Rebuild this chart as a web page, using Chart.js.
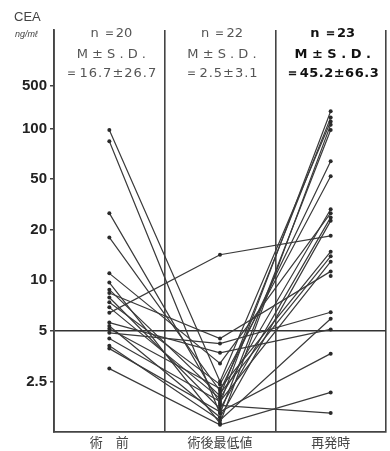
<!DOCTYPE html>
<html>
<head>
<meta charset="utf-8">
<script src="https://cdn.jsdelivr.net/npm/chart.js@4/dist/chart.umd.min.js"></script>
<style>
  html, body { margin: 0; padding: 0; background: #fff; }
  #wrap { width: 390px; height: 451px; }
</style>
</head>
<body>
<div id="wrap"><canvas id="c" width="390" height="451"></canvas></div>
<script>
// ---- data ----
const categories = ['術　前', '術後最低値', '再発時'];
const tickValues = [2.5, 5, 10, 20, 50, 100, 500];
const tickLabels = ['2.5', '5', '10', '20', '50', '100', '500'];
const preOp      = [98, 84, 27, 18, 11, 9.7, 8.8, 8.4, 7.9, 7.4, 6.9, 6.4, 5.6, 5.35, 5.15, 4.87, 4.5, 4.08, 3.92, 2.98, null, null, null];
const postMin    = [2.5, 1.61, 1.85, 2.2, 3.2, 1.41, 2.05, 4.5, 1.72, 2.4, 1.98, 14.2, 3.7, 1.53, 2.27, 4.2, 1.9, 1.47, 1.65, 1.38, 2.12, 1.8, null];
const recurrence = [130, 98, 191, 64, 27, 116, 151, 11.3, 25, 52, 29, 18.4, 5.1, 23.5, 14.8, 6.45, 12.9, 5.9, 3.66, 2.15, 13.9, 1.62, 10.6];
const groupN     = ['n ＝20', 'n ＝22', 'n ＝23'];
const groupStats = ['＝16.7±26.7', '＝2.5±3.1', '＝45.2±66.3'];

// ---- axis mapping (the original axis has nearly evenly spaced ticks) ----
const tickSlots = [0, 1, 2, 3, 4, 5, 5.85];
function toSlot(v) {
  if (v == null) return null;
  if (v <= tickValues[0]) return Math.log2(v / tickValues[0]);
  for (let i = 0; i < tickValues.length - 1; i++) {
    if (v <= tickValues[i + 1]) {
      return tickSlots[i] + (tickSlots[i + 1] - tickSlots[i]) *
        Math.log(v / tickValues[i]) / Math.log(tickValues[i + 1] / tickValues[i]);
    }
  }
  return tickSlots[tickSlots.length - 1];
}

const ink = '#3a3a3a';
const datasets = preOp.map((_, i) => ({
  data: [toSlot(preOp[i]), toSlot(postMin[i]), toSlot(recurrence[i])],
  borderColor: ink,
  borderWidth: 1.2,
  pointRadius: 2,
  pointBackgroundColor: '#2a2a2a',
  pointBorderWidth: 0,
  spanGaps: false,
  tension: 0
}));

const textPlugin = {
  id: 'texts',
  afterDraw(chart) {
    const ctx = chart.ctx;
    const xs = chart.scales.x;
    ctx.save();
    ctx.textAlign = 'left';
    ctx.textBaseline = 'middle';
    ctx.fillStyle = '#444';
    ctx.font = '13px "Liberation Sans", Arial, sans-serif';
    ctx.fillText('CEA', 14, 17);
    ctx.font = 'italic 9px "Liberation Sans", Arial, sans-serif';
    ctx.fillText('ng/mℓ', 15, 34);
    ctx.textAlign = 'center';
    for (let i = 0; i < 3; i++) {
      const cx = xs.getPixelForValue(i) + (i === 2 ? 2 : 2);
      const bold = i === 2;
      ctx.fillStyle = bold ? '#111' : '#555';
      const w = bold ? 'bold ' : '';
      ctx.font = w + '13px "DejaVu Sans", sans-serif';
      ctx.letterSpacing = '0px';
      ctx.fillText(groupN[i], cx, 34);
      ctx.fillText('M ± S . D .', cx, 55);
      ctx.letterSpacing = bold ? '0.5px' : '1px';
      ctx.fillText(groupStats[i], cx, 74);
    }
    ctx.restore();
  }
};

new Chart(document.getElementById('c'), {
  type: 'line',
  data: { labels: categories, datasets },
  plugins: [textPlugin],
  options: {
    responsive: false,
    animation: false,
    layout: { padding: { top: 30, right: 0, left: 0, bottom: 0 } },
    plugins: { legend: { display: false }, tooltip: { enabled: false } },
    scales: {
      x: {
        type: 'category',
        offset: true,
        afterFit(s) { s.height = 19; },
        grid: {
          offset: true,
          drawTicks: false,
          lineWidth: 1.6,
          color: (c) => (c.index === 3 ? 'rgba(0,0,0,0)' : '#444')
        },
        border: { display: true, color: '#444', width: 1.8 },
        ticks: {
          padding: 2,
          color: '#444',
          font: { family: '"Noto Sans CJK JP", sans-serif', size: 13 }
        }
      },
      y: {
        type: 'linear',
        min: -1,
        max: 6.95,
        afterFit(s) { s.width = 54; },
        afterBuildTicks(s) { s.ticks = tickSlots.map(v => ({ value: v })); },
        grid: {
          drawTicks: true,
          tickLength: 4,
          tickColor: '#444',
          lineWidth: 1.5,
          color: (c) => (c.tick && c.tick.value === 1 ? '#333' : 'rgba(0,0,0,0)')
        },
        border: { display: true, color: '#444', width: 1.8 },
        ticks: {
          padding: 3,
          color: '#222',
          font: { family: '"Liberation Sans", Arial, sans-serif', size: 15, weight: 'bold' },
          callback: (v, idx) => tickLabels[idx]
        }
      }
    }
  }
});
</script>
</body>
</html>
